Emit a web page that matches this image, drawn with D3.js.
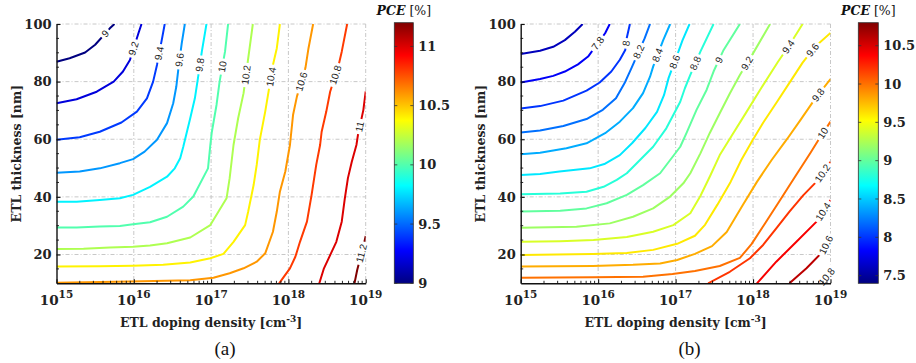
<!DOCTYPE html>
<html>
<head>
<meta charset="utf-8">
<script src="https://cdn.jsdelivr.net/npm/d3@7"></script>
<style>
body { margin: 0; background: #fff; }
</style>
</head>
<body>
<div id="chart"></div>
<script>
// x values are log10 of the doping density, y values are ETL thickness in nm
var xTicks = [15, 16, 17, 18, 19];
var yTicks = [20, 40, 60, 80, 100];

// panel (a)
var levelsA = [9, 9.2, 9.4, 9.6, 9.8, 10, 10.2, 10.4, 10.6, 10.8, 11, 11.2];
var contoursA = [
	[[15,86.9],[15.17,88.1],[15.37,90.1],[15.5,92.8],[15.69,98.5],[15.75,100]],
	[[15,72.5],[15.26,73.9],[15.52,76.5],[15.74,80],[15.86,83.5],[15.95,87.5],[16.06,96.8],[16.1,100]],
	[[15,59.8],[15.3,60.7],[15.56,62.6],[15.84,65.8],[16.04,69.6],[16.17,74.2],[16.25,80],[16.3,85.8],[16.37,95.6],[16.4,100]],
	[[15,48.4],[15.3,48.8],[15.56,49.9],[15.82,51.7],[15.99,53.1],[16.14,55.7],[16.3,59.8],[16.43,65.6],[16.51,72.5],[16.55,78.3],[16.58,85.2],[16.62,93.3],[16.66,100]],
	[[15,38.3],[15.26,38.3],[15.56,38.9],[15.82,39.5],[15.99,40.7],[16.21,43.5],[16.43,47],[16.53,49.9],[16.6,53.4],[16.64,57.4],[16.73,67.3],[16.79,74.2],[16.83,81.2],[16.88,90.4],[16.94,100]],
	[[15,29.4],[15.26,29.4],[15.56,29.7],[15.82,29.9],[15.99,30.5],[16.21,31.2],[16.43,33.1],[16.64,36.6],[16.77,40.1],[16.96,49.9],[16.99,58],[17.01,62.6],[17.07,71.9],[17.11,80],[17.18,90.4],[17.22,100]],
	[[15,21.9],[15.35,22],[15.69,22.4],[15.99,22.7],[16.21,23.1],[16.43,23.9],[16.73,25.9],[16.99,30.2],[17.2,39.5],[17.24,46.5],[17.29,58],[17.35,67.3],[17.42,76],[17.48,88.1],[17.54,100]],
	[[15,15.8],[15.56,15.9],[15.99,16.1],[16.38,16.4],[16.73,17.2],[16.99,18.7],[17.16,20.2],[17.29,24.4],[17.44,30.2],[17.48,34.9],[17.55,44.1],[17.59,51.1],[17.63,59.8],[17.7,69.6],[17.74,76],[17.8,85.8],[17.85,91.6],[17.89,100]],
	[[15,10.2],[15.95,10.6],[16.73,11.1],[17.03,11.9],[17.24,13.5],[17.42,15.2],[17.59,17.5],[17.7,20.4],[17.8,27.9],[17.85,34.9],[17.89,41.8],[17.96,48.8],[18.02,58],[18.06,68.4],[18.11,74.8],[18.22,84.7],[18.26,91.6],[18.32,100]],
	[[17.88,10],[18.02,15.2],[18.09,19.2],[18.15,24.4],[18.24,31.4],[18.3,40.7],[18.36,51.1],[18.41,58],[18.43,62.6],[18.49,69.6],[18.54,76.5],[18.65,85.8],[18.69,90.4],[18.76,100]],
	[[18.4,10],[18.46,15.2],[18.54,19.8],[18.62,24.4],[18.69,31.4],[18.73,39.5],[18.77,46.5],[18.82,52.2],[18.88,58],[18.9,61.5],[18.97,70.2],[19,76.6]],
	[[18.855,10],[18.89,14.6],[18.97,22.9],[19,26.4]]
];
// [level, thickness where the inline label sits]
var labelsA = [[9,96.7],[9.2,91.5],[9.4,89.8],[9.6,87.5],[9.8,85.8],[10,85.2],[10.2,82.3],[10.4,81.7],[10.6,80],[10.8,82.3],[11,64.4],[11.2,20.4]];
var cbDomainA = [9, 11.2];
var cbTicksA = [9, 9.5, 10, 10.5, 11];

// panel (b)
var levelsB = [7.6, 7.8, 8, 8.2, 8.4, 8.6, 8.8, 9, 9.2, 9.4, 9.6, 9.8, 10, 10.2, 10.4, 10.6, 10.8];
var contoursB = [
	[[15,89.6],[15.25,90.7],[15.42,92.1],[15.57,94.4],[15.7,97.3],[15.8,100]],
	[[15,79.7],[15.25,80.9],[15.42,82],[15.57,83.5],[15.74,86],[15.87,88.7],[16.09,96.8],[16.15,100]],
	[[15,70.7],[15.25,71.5],[15.55,73.4],[15.85,76.9],[16.02,79.7],[16.17,83.5],[16.28,87.6],[16.35,91],[16.37,95.2],[16.41,100]],
	[[15,62.3],[15.25,63],[15.55,64.6],[15.85,67],[16.06,70.2],[16.23,74.2],[16.34,79.4],[16.43,84.7],[16.6,95],[16.67,100]],
	[[15,54.8],[15.25,55.3],[15.59,56.9],[15.85,58.6],[16.09,62.1],[16.28,66.1],[16.45,70.8],[16.58,76],[16.67,81.7],[16.71,85.2],[16.84,94.4],[16.93,100]],
	[[15,47.6],[15.25,47.9],[15.5,48.8],[15.89,49.9],[16.08,51.4],[16.28,54.5],[16.44,58.7],[16.61,63.9],[16.76,69.5],[16.85,75.3],[16.91,81.3],[17.02,89.2],[17.09,94.4],[17.18,100]],
	[[15,40.9],[15.51,41.2],[15.85,41.8],[16.07,43.5],[16.24,45.9],[16.37,48.2],[16.54,52.8],[16.71,57.4],[16.88,63.8],[16.97,68.4],[17.06,73],[17.12,77.7],[17.19,82.3],[17.32,90.4],[17.49,100]],
	[[15,34.9],[15.51,35.2],[15.85,36],[16.11,37.8],[16.37,40.7],[16.58,44.1],[16.8,48.2],[16.93,52.8],[17.06,57.4],[17.14,62.1],[17.27,70.2],[17.4,77.1],[17.49,83.5],[17.62,91],[17.83,100]],
	[[15,29.3],[15.72,29.6],[16.15,30.8],[16.45,33.1],[16.71,36],[16.93,40.1],[17.1,44.7],[17.19,48.2],[17.32,55.1],[17.44,62.1],[17.57,69],[17.7,75.9],[17.83,82.3],[18,89.8],[18.22,100]],
	[[15,24.4],[15.51,24.6],[15.94,25],[16.37,26.1],[16.71,27.9],[16.97,30.2],[17.19,34.3],[17.32,40.3],[17.45,47.5],[17.57,54.5],[17.73,61.5],[17.9,68.8],[18.09,77.1],[18.32,86.8],[18.47,92.7],[18.64,100]],
	[[15,19.8],[15.93,20.2],[16.37,20.5],[16.71,21.6],[17.02,23.7],[17.25,26.5],[17.38,30.3],[17.54,37.3],[17.71,45.2],[17.85,52.9],[17.99,59.5],[18.13,65.7],[18.31,73],[18.48,80],[18.64,86.6],[18.8,92.1],[19,96.9]],
	[[15,15.8],[15.93,16],[16.45,16.4],[16.8,16.9],[17.02,18.1],[17.25,20.2],[17.47,22.9],[17.66,27.8],[17.86,36.8],[18.05,45.2],[18.24,52.8],[18.44,60.1],[18.62,67],[18.8,74],[19,80.9]],
	[[15,11.9],[15.93,12.1],[16.58,12.3],[16.96,13.2],[17.25,14.3],[17.57,16],[17.83,18.8],[17.98,23.6],[18.15,30.6],[18.35,38.9],[18.54,46.9],[18.74,55.2],[18.86,60.4],[19,66.1]],
	[[17.42,10],[17.7,14],[17.96,18.7],[18.13,23.3],[18.3,29.1],[18.47,34.9],[18.65,40.6],[18.82,45.3],[19,52.2]],
	[[18.05,10],[18.3,17.5],[18.56,24.4],[18.82,31.4],[19,38.9]],
	[[18.47,10],[18.69,15.2],[18.9,21],[19,26.4]],
	[[18.88,10],[19,14]]
];
var labelsB = [[7.8,93.3],[8,93.3],[8.2,90.4],[8.4,89.2],[8.6,86.9],[8.8,86.4],[9,87.5],[9.2,86.4],[9.4,92.1],[9.6,91],[9.8,75.4],[10,62.1],[10.2,48.2],[10.4,34.9],[10.6,23.3],[10.8,12.3]];
var cbDomainB = [7.4, 10.8];
var cbTicksB = [7.5, 8, 8.5, 9, 9.5, 10, 10.5];

var W = 916, H = 363;
var plotTop = 24, plotBottom = 283.3;
var serif = "'DejaVu Serif', serif";

var svg = d3.select("#chart").append("svg")
	.attr("width", W)
	.attr("height", H)
	.style("font-family", serif);

// matlab jet
var jet = d3.scaleLinear()
	.domain([0, 0.125, 0.375, 0.625, 0.875, 1])
	.range(["#000080", "#0000ff", "#00ffff", "#ffff00", "#ff0000", "#800000"])
	.clamp(true);

function labelSpot(pts, t) {
	for (var i = 0; i < pts.length - 1; i++) {
		var p = pts[i], q = pts[i + 1];
		if (p[1] != q[1] && (t - p[1]) * (t - q[1]) <= 0) {
			var f = (t - p[1]) / (q[1] - p[1]);
			return {x: p[0] + f * (q[0] - p[0]), y: t, p: p, q: q};
		}
	}
	return null;
}

var panels = [
	{left: 56.5, right: 365.7, cbX: 394.3, cbW: 19, levels: levelsA, lines: contoursA, labels: labelsA, cb: cbDomainA, cbTicks: cbTicksA, tag: "(a)"},
	{left: 520.7, right: 830.5, cbX: 858.3, cbW: 20, levels: levelsB, lines: contoursB, labels: labelsB, cb: cbDomainB, cbTicks: cbTicksB, tag: "(b)"}
];

var defs = svg.append("defs");

panels.forEach(function(P, pi) {
	var x = d3.scaleLinear().domain([15, 19]).range([P.left, P.right]);
	var y = d3.scaleLinear().domain([10, 100]).range([plotBottom, plotTop]);
	var col = d3.scaleLinear().domain(P.cb).range([0, 1]);
	var g = svg.append("g");

	// dashed grid, also makes the top and right frame
	g.selectAll(".gx").data(xTicks.slice(1)).enter().append("line")
		.attr("x1", function(d) { return x(d); })
		.attr("x2", function(d) { return x(d); })
		.attr("y1", plotTop).attr("y2", plotBottom)
		.attr("stroke", "#c8c8c8").attr("stroke-width", 1)
		.attr("stroke-dasharray", "4,2,1,2");
	g.selectAll(".gy").data(yTicks).enter().append("line")
		.attr("x1", P.left).attr("x2", P.right)
		.attr("y1", function(d) { return y(d); })
		.attr("y2", function(d) { return y(d); })
		.attr("stroke", "#c8c8c8").attr("stroke-width", 1)
		.attr("stroke-dasharray", "4,2,1,2");

	// contour lines
	defs.append("clipPath").attr("id", "clip" + pi)
		.append("rect")
		.attr("x", P.left).attr("y", plotTop)
		.attr("width", P.right - P.left).attr("height", plotBottom - plotTop);
	var line = d3.line()
		.x(function(d) { return x(d[0]); })
		.y(function(d) { return y(d[1]); });
	g.append("g").attr("clip-path", "url(#clip" + pi + ")")
		.selectAll("path").data(P.lines).enter().append("path")
		.attr("d", line)
		.attr("fill", "none")
		.attr("stroke", function(d, i) { return jet(col(P.levels[i])); })
		.attr("stroke-width", 2)
		.attr("stroke-linejoin", "round");

	// inline labels with a gap in the line
	P.labels.forEach(function(lb) {
		var idx = P.levels.indexOf(lb[0]);
		var s = labelSpot(P.lines[idx], lb[1]);
		if (!s) return;
		var ang = Math.atan2(y(s.q[1]) - y(s.p[1]), x(s.q[0]) - x(s.p[0])) * 180 / Math.PI;
		if (ang > 90) ang -= 180;
		if (ang < -90) ang += 180;
		var lg = g.append("g")
			.attr("transform", "translate(" + x(s.x) + "," + y(s.y) + ") rotate(" + ang + ")");
		var bg = lg.append("rect").attr("fill", "#fff");
		var tx = lg.append("text")
			.attr("text-anchor", "middle")
			.attr("dy", "0.35em")
			.style("font-family", "'Liberation Sans', Arial, sans-serif")
			.style("font-size", "10px")
			.attr("fill", "#222")
			.text(lb[0]);
		var w = tx.node().getComputedTextLength() + 5;
		bg.attr("x", -w / 2).attr("y", -5).attr("width", w).attr("height", 10);
	});

	// axes
	var yAxis = d3.axisLeft(y).tickValues(yTicks).tickSize(-4).tickSizeOuter(0).tickPadding(5);
	var ya = g.append("g").attr("transform", "translate(" + P.left + ",0)").call(yAxis);
	ya.selectAll("text")
		.style("font-family", serif).style("font-size", "13px")
		.style("font-weight", "bold").attr("fill", "#222");
	var xAxis = d3.axisBottom(x).tickValues(xTicks).tickSize(-4).tickSizeOuter(0).tickFormat("");
	var xa = g.append("g").attr("transform", "translate(0," + plotBottom + ")").call(xAxis);
	[ya, xa].forEach(function(a) {
		a.select(".domain").attr("stroke", "#111").attr("stroke-width", 1.4);
		a.selectAll(".tick line").attr("stroke", "#111").attr("stroke-width", 1.1);
	});

	// minor ticks
	var minorX = [];
	for (var d = 15; d < 19; d++) {
		for (var k = 2; k < 10; k++) minorX.push(d + Math.log10(k));
	}
	g.selectAll(".mx").data(minorX).enter().append("line")
		.attr("x1", function(d) { return x(d); })
		.attr("x2", function(d) { return x(d); })
		.attr("y1", plotBottom).attr("y2", plotBottom - 2.5)
		.attr("stroke", "#111").attr("stroke-width", 0.9);
	var minorY = d3.range(15, 100, 5).filter(function(v) { return v % 20 != 0; });
	g.selectAll(".my").data(minorY).enter().append("line")
		.attr("x1", P.left).attr("x2", P.left + 2.5)
		.attr("y1", function(d) { return y(d); })
		.attr("y2", function(d) { return y(d); })
		.attr("stroke", "#111").attr("stroke-width", 0.9);

	// 10^n labels
	var xl = g.selectAll(".xl").data(xTicks).enter().append("text")
		.attr("x", function(d) { return x(d); })
		.attr("y", plotBottom + 22)
		.attr("text-anchor", "middle")
		.style("font-size", "13.5px").style("font-weight", "bold")
		.attr("fill", "#222");
	xl.append("tspan").text("10");
	xl.append("tspan").attr("dy", -7).style("font-size", "10.5px").text(function(d) { return d; });

	// axis titles
	var xt = g.append("text")
		.attr("x", (P.left + P.right) / 2).attr("y", plotBottom + 44)
		.attr("text-anchor", "middle")
		.style("font-size", "12.5px").style("font-weight", "bold").attr("fill", "#222");
	xt.append("tspan").text("ETL doping density [cm");
	xt.append("tspan").attr("dy", -5).style("font-size", "9px").text("-3");
	xt.append("tspan").attr("dy", 5).text("]");

	g.append("text")
		.attr("transform", "translate(" + (P.left - 40) + "," + ((plotTop + plotBottom) / 2) + ") rotate(-90)")
		.attr("text-anchor", "middle")
		.attr("dy", "0.35em")
		.style("font-size", "12.5px").style("font-weight", "bold").attr("fill", "#222")
		.text("ETL thickness [nm]");

	g.append("text")
		.attr("x", (P.left + P.right) / 2 + 14).attr("y", 355)
		.attr("text-anchor", "middle")
		.style("font-family", "'Liberation Serif', 'Times New Roman', serif")
		.style("font-size", "19px").attr("fill", "#111")
		.text(P.tag);

	// colorbar
	var cbTop = 22.7;
	var cy = d3.scaleLinear().domain(P.cb).range([plotBottom, cbTop]);
	var grad = defs.append("linearGradient").attr("id", "grad" + pi)
		.attr("x1", 0).attr("x2", 0).attr("y1", 1).attr("y2", 0);
	d3.range(0, 1.0001, 0.125).forEach(function(t) {
		grad.append("stop").attr("offset", t).attr("stop-color", jet(t));
	});
	g.append("rect")
		.attr("x", P.cbX).attr("y", cbTop)
		.attr("width", P.cbW).attr("height", plotBottom - cbTop)
		.attr("fill", "url(#grad" + pi + ")")
		.attr("stroke", "#333").attr("stroke-width", 0.8);
	var ct = g.selectAll(".ct").data(P.cbTicks).enter();
	ct.append("line")
		.attr("x1", P.cbX + P.cbW - 3).attr("x2", P.cbX + P.cbW)
		.attr("y1", function(d) { return cy(d); })
		.attr("y2", function(d) { return cy(d); })
		.attr("stroke", "#333").attr("stroke-width", 0.8);
	ct.append("line")
		.attr("x1", P.cbX).attr("x2", P.cbX + 3)
		.attr("y1", function(d) { return cy(d); })
		.attr("y2", function(d) { return cy(d); })
		.attr("stroke", "#333").attr("stroke-width", 0.8);
	ct.append("text")
		.attr("x", P.cbX + P.cbW + 5)
		.attr("y", function(d) { return cy(d); })
		.attr("dy", "0.35em")
		.style("font-size", "13px").style("font-weight", "bold").attr("fill", "#222")
		.text(function(d) { return d; });

	var ttl = g.append("text")
		.attr("x", P.cbX + P.cbW / 2).attr("y", 15)
		.attr("text-anchor", "middle")
		.style("font-size", "12.5px").attr("fill", "#111");
	ttl.append("tspan").style("font-weight", "bold").style("font-style", "italic").text("PCE");
	ttl.append("tspan").text(" [%]");
});
</script>
</body>
</html>
